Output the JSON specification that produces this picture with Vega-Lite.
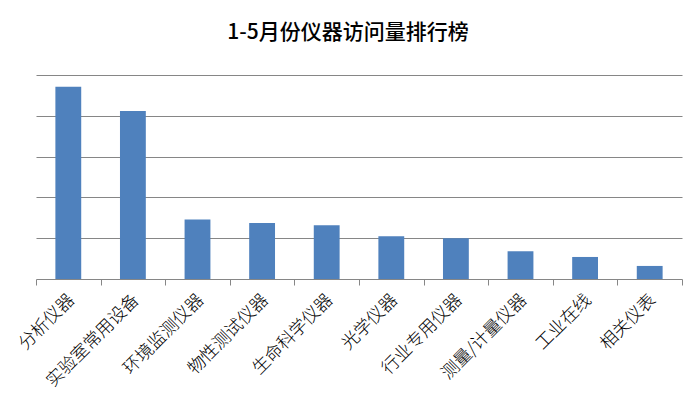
{
  "$schema": "https://vega.github.io/schema/vega-lite/v6.json",
  "width": 646,
  "height": 204,
  "autosize": "none",
  "padding": {"left": 36, "top": 75, "right": 15, "bottom": 133},
  "background": "white",
  "title": {
    "text": "1-5月份仪器访问量排行榜",
    "font": "Noto Sans CJK SC",
    "fontSize": 21,
    "fontWeight": 500,
    "color": "#000000",
    "anchor": "middle",
    "offset": 32,
    "dx": -11
  },
  "data": {
    "values": [
      {"category": "分析仪器", "value": 4.71},
      {"category": "实验室常用设备", "value": 4.12},
      {"category": "环境监测仪器", "value": 1.46},
      {"category": "物性测试仪器", "value": 1.37},
      {"category": "生命科学仪器", "value": 1.32},
      {"category": "光学仪器", "value": 1.05},
      {"category": "行业专用仪器", "value": 1.0},
      {"category": "测量/计量仪器", "value": 0.68},
      {"category": "工业在线", "value": 0.54},
      {"category": "相关仪表", "value": 0.32}
    ]
  },
  "mark": {"type": "bar", "color": "#4F81BD", "width": {"band": 0.4}},
  "encoding": {
    "x": {
      "field": "category",
      "type": "nominal",
      "sort": null,
      "scale": {"paddingInner": 0, "paddingOuter": 0},
      "axis": {
        "title": null,
        "tickBand": "extent",
        "labelAngle": -45,
        "labelAlign": "right",
        "labelBaseline": "middle",
        "labelFont": "Noto Sans CJK SC",
        "labelFontSize": 17.5,
        "labelFontWeight": 300,
        "labelColor": "#000000",
        "labelPadding": 12,
        "labelOffset": 3,
        "domainColor": "#868686",
        "tickColor": "#868686",
        "tickSize": 6,
        "grid": false
      }
    },
    "y": {
      "field": "value",
      "type": "quantitative",
      "scale": {"domain": [0, 5], "nice": false},
      "axis": {
        "title": null,
        "labels": false,
        "ticks": false,
        "domain": false,
        "values": [1, 2, 3, 4, 5],
        "grid": true,
        "gridColor": "#868686",
        "gridWidth": 1.2
      }
    }
  },
  "config": {"view": {"stroke": null}}
}
